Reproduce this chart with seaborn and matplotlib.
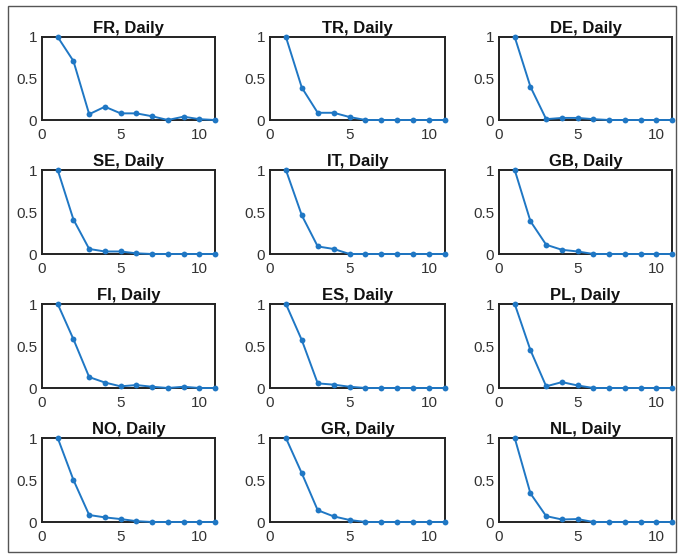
import numpy as np
import pandas as pd
import matplotlib
matplotlib.use("Agg")
import matplotlib.pyplot as plt
import seaborn as sns
from matplotlib.patches import Rectangle

sns.set_style("white")
plt.rcParams['font.family'] = ['Liberation Sans', 'DejaVu Sans']

lags = [1, 2, 3, 4, 5, 6, 7, 8, 9, 10, 11]
countries = ["FR", "TR", "DE", "SE", "IT", "GB", "FI", "ES", "PL", "NO", "GR", "NL"]

FR = [1, 0.71, 0.07, 0.16, 0.08, 0.08, 0.045, 0.0, 0.04, 0.01, 0.0]
TR = [1, 0.39, 0.087, 0.087, 0.036, 0.0, 0.0, 0.0, 0.0, 0.0, 0.0]
DE = [1, 0.40, 0.01, 0.025, 0.025, 0.01, 0.0, 0.0, 0.0, 0.0, 0.0]
SE = [1, 0.41, 0.06, 0.03, 0.03, 0.008, 0.0, 0.0, 0.0, 0.0, 0.0]
IT = [1, 0.46, 0.09, 0.06, 0.0, 0.0, 0.0, 0.0, 0.0, 0.0, 0.0]
GB = [1, 0.39, 0.11, 0.05, 0.03, 0.0, 0.0, 0.0, 0.0, 0.0, 0.0]
FI = [1, 0.58, 0.13, 0.065, 0.02, 0.035, 0.015, 0.0, 0.015, 0.0, 0.0]
ES = [1, 0.57, 0.055, 0.04, 0.015, 0.0, 0.0, 0.0, 0.0, 0.0, 0.0]
PL = [1, 0.45, 0.02, 0.07, 0.03, 0.0, 0.0, 0.0, 0.0, 0.0, 0.0]
NO = [1, 0.50, 0.083, 0.055, 0.035, 0.01, 0.0, 0.0, 0.0, 0.0, 0.0]
GR = [1, 0.58, 0.14, 0.067, 0.024, 0.0, 0.0, 0.0, 0.0, 0.0, 0.0]
NL = [1, 0.34, 0.07, 0.03, 0.035, 0.0, 0.0, 0.0, 0.0, 0.0, 0.0]

series = [FR, TR, DE, SE, IT, GB, FI, ES, PL, NO, GR, NL]
xticks = [0, 5, 10]
yticks = [0, 0.5, 1]
ytick_labels = ["0", "0.5", "1"]

W, H = 681, 555
fig = plt.figure(figsize=(W / 100, H / 100), dpi=100)

col_lr = [(42, 215), (270, 445), (499, 672)]
row_tb = [(37, 120), (170, 254), (304, 388), (438, 522)]

blue = "#1f77c4"
txt = "#333333"

fig.patches.append(Rectangle((8 / W, 1 - 552 / H), (676 - 8) / W, (552 - 6) / H,
                             transform=fig.transFigure, fill=False,
                             edgecolor="#555555", linewidth=1.0))

for i, (name, vals) in enumerate(zip(countries, series)):
    r, c = divmod(i, 3)
    l, rr = col_lr[c]
    t, b = row_tb[r]
    ax = fig.add_axes([l / W, 1 - b / H, (rr - l) / W, (b - t) / H])
    df = pd.DataFrame({"lag": lags, "acf": vals})
    sns.lineplot(data=df, x="lag", y="acf", ax=ax, color=blue, marker="o",
                 markersize=4.2, markeredgewidth=0, linewidth=1.4,
                 clip_on=False, zorder=5)
    ax.set_xlim(0, 11)
    ax.set_ylim(0, 1)
    ax.set_xticks(xticks)
    ax.set_yticks(yticks)
    ax.set_yticklabels(ytick_labels)
    ax.set_xlabel("")
    ax.set_ylabel("")
    ax.tick_params(direction="in", length=0, labelsize=11, colors=txt)
    ax.tick_params(axis="x", pad=5.5)
    ax.tick_params(axis="y", pad=3.5)
    for s in ax.spines.values():
        s.set_visible(True)
        s.set_color("#222222")
        s.set_linewidth(1.4)
        s.set_zorder(3)
    ax.set_title(f"{name}, Daily", fontsize=12, fontweight="bold", color="#111111", pad=3)

fig.savefig("out.png", dpi=100, facecolor="white")
